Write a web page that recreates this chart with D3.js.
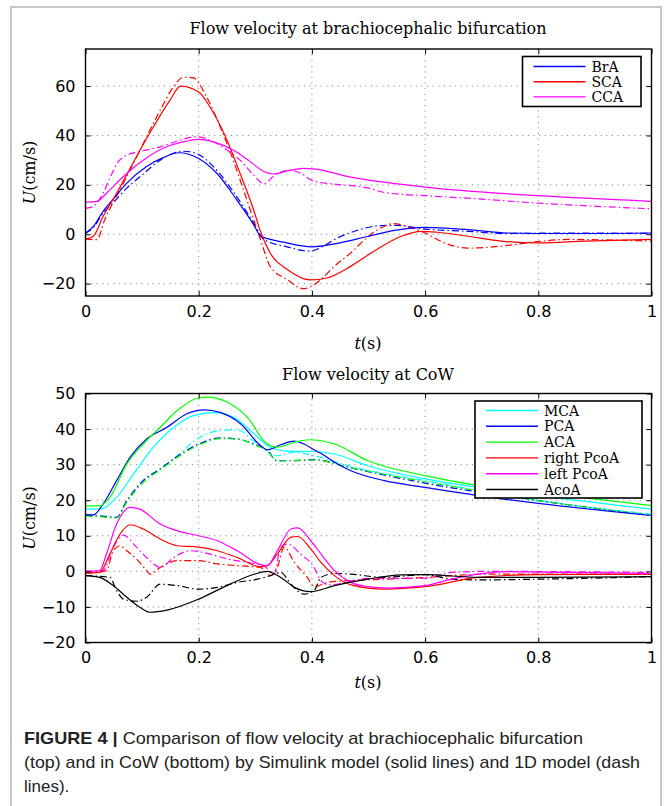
<!DOCTYPE html>
<html>
<head>
<meta charset="utf-8">
<script src="https://cdn.jsdelivr.net/npm/d3@7"></script>
<style>
  body { margin: 0; background: #fff; }
</style>
</head>
<body>
<div id="chart"></div>
<script>
// ticks
const xTicks = [0, 0.2, 0.4, 0.6, 0.8, 1];
const topYTicks = [-20, 0, 20, 40, 60];
const botYTicks = [-20, -10, 0, 10, 20, 30, 40, 50];

// top panel: [t (s), U (cm/s)], Simulink (sim) and 1D model
const braSim = [[0,0.5],[0.015,3.5],[0.031,9.3],[0.05,14.5],[0.073,20.7],[0.108,27.4],[0.135,30.8],[0.165,33],[0.2,30.7],[0.232,24.7],[0.267,14],[0.297,3.9],[0.309,-0.6],[0.325,-2],[0.35,-3.2],[0.38,-4.6],[0.4,-5.1],[0.44,-3.9],[0.5,-0.8],[0.546,1.6],[0.6,2.8],[0.675,1.9],[0.746,0.5],[0.8,0.3],[0.9,0.3],[1,0.5]];
const bra1d = [[0,0.3],[0.015,3],[0.031,8.5],[0.05,13],[0.073,18.7],[0.1,24],[0.132,30],[0.155,32.8],[0.175,33.6],[0.2,32.3],[0.226,27.4],[0.261,17.3],[0.297,4.6],[0.315,-2.1],[0.356,-5.1],[0.397,-6.8],[0.415,-5.5],[0.44,-2.1],[0.475,1.2],[0.522,3.5],[0.55,3.6],[0.6,2.1],[0.675,1.2],[0.74,0.3],[0.85,0.5],[1,0.3]];
const scaSim = [[0,-2],[0.014,-0.8],[0.031,7.2],[0.055,16.6],[0.09,31.4],[0.12,43.5],[0.149,54.2],[0.168,60],[0.2,57.6],[0.22,51.5],[0.25,38.1],[0.273,24.7],[0.297,9.9],[0.309,1.2],[0.326,-7.5],[0.356,-14.2],[0.397,-18.5],[0.428,-17.6],[0.469,-12.9],[0.51,-6.8],[0.558,-0.8],[0.593,1.2],[0.622,0.8],[0.675,-0.8],[0.735,-2.8],[0.8,-3.5],[0.882,-2.8],[1,-2.1]];
const sca1d = [[0,-2],[0.02,-2.2],[0.034,5.9],[0.067,20.7],[0.096,34],[0.132,50.2],[0.155,59.6],[0.173,63.6],[0.19,63.4],[0.214,55.6],[0.238,43.5],[0.261,30],[0.285,14],[0.309,-2],[0.326,-12.9],[0.356,-18.3],[0.385,-22],[0.4,-21],[0.416,-18.3],[0.44,-12.9],[0.469,-7.5],[0.5,-0.8],[0.522,2.6],[0.543,4.3],[0.575,2.6],[0.6,0.5],[0.634,-3.5],[0.675,-5.6],[0.735,-4.8],[0.794,-3.1],[0.852,-2.1],[1,-2.8]];
const ccaSim = [[0,13],[0.02,13.3],[0.037,16.6],[0.067,23.4],[0.102,30],[0.143,35.4],[0.179,37.7],[0.2,38.4],[0.226,37.4],[0.261,34.1],[0.291,29.4],[0.315,25.4],[0.332,24.4],[0.356,25.6],[0.385,26.7],[0.403,26.5],[0.469,23.1],[0.6,19.1],[0.8,15.6],[1,13.3]];
const cca1d = [[0,10.5],[0.014,11.3],[0.031,16.6],[0.043,22.7],[0.058,29.4],[0.073,32],[0.102,33.8],[0.132,35.4],[0.167,38.1],[0.196,39.5],[0.22,38.1],[0.25,34.1],[0.273,30],[0.297,24],[0.315,20.5],[0.335,24],[0.36,26],[0.38,24.7],[0.403,21.5],[0.44,20.3],[0.5,18.7],[0.528,16.9],[0.6,15.6],[0.675,14.6],[0.8,12.6],[1,10.3]];

// bottom panel (CoW)
const mcaSim = [[0,17.5],[0.025,17.5],[0.055,20.8],[0.085,27.4],[0.12,34.9],[0.156,40.5],[0.191,43.8],[0.227,44.6],[0.262,43.3],[0.298,38.6],[0.327,34.9],[0.357,33.8],[0.404,33.7],[0.44,33],[0.499,29.7],[0.6,26],[0.694,23.6],[0.8,21.3],[1,17.5]];
const mca1d = [[0,15.8],[0.03,15.5],[0.055,15.2],[0.073,19.9],[0.102,25.5],[0.132,28.8],[0.162,32.5],[0.2,37.5],[0.238,39.6],[0.268,39.8],[0.298,36.5],[0.321,34],[0.339,32.5],[0.369,33.5],[0.404,32.5],[0.469,29.5],[0.6,25.5],[0.8,19.9],[1,16.1]];
const pcaSim = [[0,15.9],[0.014,15.9],[0.031,18.9],[0.055,25.5],[0.079,32.1],[0.108,37.2],[0.144,40.5],[0.179,44.3],[0.209,45.4],[0.238,44.7],[0.274,41.5],[0.309,35.4],[0.321,34.2],[0.345,35.6],[0.369,36.6],[0.386,35.8],[0.404,34.2],[0.42,32.8],[0.44,30.7],[0.469,28.3],[0.528,25.5],[0.6,23.6],[0.694,21.3],[0.8,19.1],[1,15.7]];
const pca1d = [[0,15.8],[0.03,15.5],[0.055,15.2],[0.073,19.9],[0.102,25.5],[0.132,28.8],[0.162,32.3],[0.2,35.8],[0.238,37.5],[0.268,37.2],[0.298,35.8],[0.321,34],[0.339,31.1],[0.369,31.1],[0.404,31.4],[0.469,29.1],[0.6,24.8],[0.8,19.9],[1,15.7]];
const acaSim = [[0,18.4],[0.025,18.4],[0.043,20.8],[0.073,30.2],[0.102,35.8],[0.132,40.5],[0.162,45.2],[0.2,48.8],[0.215,49],[0.25,47.6],[0.286,43.3],[0.321,35.8],[0.339,34.9],[0.369,36.3],[0.395,37],[0.44,35.8],[0.499,31.1],[0.6,26.9],[0.694,24.1],[0.8,22.2],[1,18.5]];
const aca1d = [[0,15.6],[0.03,15.3],[0.055,15],[0.073,19.5],[0.102,25],[0.132,28.5],[0.162,32],[0.2,35.5],[0.238,37.3],[0.268,37.2],[0.298,35.6],[0.321,33.8],[0.339,31],[0.369,31.2],[0.404,31.3],[0.469,29.1],[0.6,25.2],[0.8,19.9],[1,15.8]];
const rpcoaSim = [[0,-0.5],[0.025,-0.3],[0.043,4.9],[0.061,10.5],[0.079,13.1],[0.102,11.9],[0.132,9.1],[0.162,7.2],[0.2,6.8],[0.233,5.8],[0.268,3.9],[0.309,1.3],[0.321,1.6],[0.339,4.9],[0.363,9.6],[0.375,9.8],[0.398,6.3],[0.416,2.5],[0.44,-1.2],[0.469,-3.8],[0.528,-5],[0.6,-4.3],[0.694,-1.7],[0.8,-0.9],[1,-0.8]];
const rpcoa1d = [[0,-0.5],[0.037,0.2],[0.049,5.8],[0.061,7.2],[0.073,5.8],[0.09,3.5],[0.108,0.2],[0.114,-0.8],[0.132,1.1],[0.162,3],[0.2,3],[0.233,2.1],[0.268,1.6],[0.309,1.1],[0.327,-1.2],[0.339,1.1],[0.351,6.8],[0.369,2.5],[0.392,-1.7],[0.404,-4.3],[0.428,-3.1],[0.469,-2.6],[0.528,-2.2],[0.6,-1.7],[0.647,-1.2],[0.706,-0.8],[1,-0.8]];
const lpcoaSim = [[0,0],[0.025,0.2],[0.037,4.9],[0.055,13.3],[0.079,18],[0.096,17.5],[0.132,13.3],[0.162,11.4],[0.2,10],[0.233,8.6],[0.268,5.8],[0.309,1.9],[0.321,1.6],[0.339,5.8],[0.363,11.9],[0.375,12.2],[0.398,8.6],[0.416,4.9],[0.44,0.2],[0.469,-3.1],[0.499,-4.3],[0.534,-4.7],[0.6,-4],[0.647,-2.2],[0.694,-0.8],[0.742,-0.1],[0.8,-0.2],[1,-0.6]];
const lpcoa1d = [[0,0],[0.031,0.2],[0.049,6.8],[0.061,9.6],[0.067,10.2],[0.09,6.8],[0.114,3],[0.132,1.1],[0.156,3.9],[0.185,5.8],[0.209,5.3],[0.25,3.5],[0.286,2.5],[0.315,1.6],[0.333,-0.8],[0.345,6.8],[0.357,7.7],[0.38,4.9],[0.404,1.1],[0.416,-2.6],[0.43,-3.8],[0.5,-2],[0.6,-2],[0.647,-0.3],[0.706,0],[1,-0.3]];
const acoaSim = [[0,-1.2],[0.025,-1.7],[0.049,-4],[0.073,-7.3],[0.096,-10.1],[0.114,-11.5],[0.144,-10.9],[0.2,-7.8],[0.25,-4],[0.298,-0.8],[0.321,0],[0.345,-1.7],[0.369,-4.5],[0.398,-5.7],[0.44,-4],[0.499,-2.2],[0.558,-1],[0.6,-0.9],[0.694,-1.7],[0.8,-1.7],[1,-1.5]];
const acoa1d = [[0,-1.2],[0.043,-1.7],[0.055,-5.4],[0.067,-7.8],[0.09,-8.4],[0.108,-7.3],[0.132,-3.6],[0.162,-4],[0.2,-5],[0.233,-4.5],[0.268,-3.1],[0.304,-2.2],[0.327,-1.2],[0.345,-0.3],[0.363,-3.6],[0.386,-6.4],[0.404,-5.4],[0.416,-1.7],[0.44,-0.6],[0.469,-0.8],[0.528,-1.7],[0.6,-0.9],[0.647,-2.2],[0.694,-2.4],[0.8,-2.2],[1,-1.5]];

const topNames = ["BrA", "SCA", "CCA"];
const botNames = ["MCA", "PCA", "ACA", "right PcoA", "left PcoA", "AcoA"];

const width = 664, height = 806;
const serif = "'DejaVu Serif', serif";
const sans = "'DejaVu Sans', sans-serif";
const dashDot = "7,3,1.5,3";

const svg = d3.select("#chart")
    .append("svg")
    .attr("width", width)
    .attr("height", height)
    .style("display", "block");

// gray frame round the figure
svg.append("rect")
    .attr("x", 11).attr("y", 7)
    .attr("width", 650).attr("height", 800)
    .attr("fill", "none")
    .attr("stroke", "#b4b4b4")
    .attr("stroke-width", 1.5);

function drawPanel(p) {
    const x = d3.scaleLinear().domain([0, 1]).range([85.5, 651.5]);
    const y = d3.scaleLinear().domain(p.yDomain).range([p.bottom, p.top]);
    const g = svg.append("g");

    // dotted grid
    g.selectAll(".gx").data(xTicks.slice(1, -1)).join("line")
        .attr("x1", d => x(d)).attr("x2", d => x(d))
        .attr("y1", p.top).attr("y2", p.bottom)
        .attr("stroke", "#777").attr("stroke-width", 1)
        .attr("stroke-dasharray", "1,4.6");
    g.selectAll(".gy").data(p.yTicks).join("line")
        .attr("x1", x(0)).attr("x2", x(1))
        .attr("y1", d => y(d)).attr("y2", d => y(d))
        .attr("stroke", "#777").attr("stroke-width", 1)
        .attr("stroke-dasharray", "1,4.6");

    const clipId = "clip" + p.id;
    svg.append("clipPath").attr("id", clipId)
        .append("rect")
        .attr("x", x(0)).attr("y", p.top)
        .attr("width", x(1) - x(0)).attr("height", p.bottom - p.top);

    const line = d3.line()
        .x(d => x(d[0]))
        .y(d => y(d[1]))
        .curve(d3.curveMonotoneX);

    const lines = g.append("g").attr("clip-path", `url(#${clipId})`);
    p.series.forEach(s => {
        lines.append("path").datum(s.oneD)
            .attr("d", line).attr("fill", "none")
            .attr("stroke", s.color).attr("stroke-width", 1.2)
            .attr("stroke-dasharray", dashDot);
    });
    p.series.forEach(s => {
        lines.append("path").datum(s.sim)
            .attr("d", line).attr("fill", "none")
            .attr("stroke", s.color).attr("stroke-width", 1.2);
    });

    // axes with inward ticks on all four sides
    const fmt = d => d3.format("")(d).replace("-", "\u2212");
    const axB = g.append("g").attr("transform", `translate(0,${p.bottom})`)
        .call(d3.axisBottom(x).tickValues(xTicks).tickSize(-5).tickPadding(12).tickFormat(fmt));
    const axT = g.append("g").attr("transform", `translate(0,${p.top})`)
        .call(d3.axisTop(x).tickValues(xTicks).tickSize(-5).tickFormat(""));
    const axL = g.append("g").attr("transform", `translate(${x(0)},0)`)
        .call(d3.axisLeft(y).tickValues(p.yTicks).tickSize(-5).tickPadding(10).tickFormat(fmt));
    const axR = g.append("g").attr("transform", `translate(${x(1)},0)`)
        .call(d3.axisRight(y).tickValues(p.yTicks).tickSize(-5).tickFormat(""));
    [axB, axT, axL, axR].forEach(a => {
        a.select(".domain").remove();
        a.selectAll("line").attr("stroke", "#000");
        a.selectAll("text").attr("fill", "#000")
            .style("font-family", sans).style("font-size", "16px");
    });
    axB.selectAll("text").attr("dy", "0.71em").attr("y", p.xLabelGap);

    g.append("rect")
        .attr("x", x(0)).attr("y", p.top)
        .attr("width", x(1) - x(0)).attr("height", p.bottom - p.top)
        .attr("fill", "none").attr("stroke", "#000").attr("stroke-width", 1.4);

    // title and axis labels
    g.append("text")
        .attr("x", 368).attr("y", p.titleY)
        .attr("text-anchor", "middle")
        .style("font-family", serif).style("font-size", "16px")
        .text(p.title);

    const xl = g.append("text")
        .attr("x", 368).attr("y", p.xLabelY)
        .attr("text-anchor", "middle")
        .style("font-family", serif).style("font-size", "16px");
    xl.append("tspan").style("font-style", "italic").text("t");
    xl.append("tspan").text("(s)");

    const yl = g.append("text")
        .attr("transform", `translate(35,${(p.top + p.bottom) / 2}) rotate(-90)`)
        .attr("text-anchor", "middle")
        .style("font-family", serif).style("font-size", "16px");
    yl.append("tspan").style("font-style", "italic").text("U");
    yl.append("tspan").text("(cm/s)");

    // legend
    const L = p.legend;
    const leg = g.append("g");
    leg.append("rect")
        .attr("x", L.x).attr("y", L.y)
        .attr("width", L.w).attr("height", L.h)
        .attr("fill", "#fff").attr("stroke", "#000").attr("stroke-width", 1.6);
    p.series.forEach((s, i) => {
        const ry = L.y + L.first + i * L.step;
        leg.append("line")
            .attr("x1", L.x + 11).attr("x2", L.x + 63)
            .attr("y1", ry).attr("y2", ry)
            .attr("stroke", s.color).attr("stroke-width", 1.4);
        leg.append("text")
            .attr("x", L.x + 69).attr("y", ry + 5)
            .style("font-family", serif).style("font-size", "14px")
            .text(s.name);
    });
}

drawPanel({
    id: "top",
    title: "Flow velocity at brachiocephalic bifurcation",
    titleY: 34,
    top: 49, bottom: 296,
    yDomain: [-25, 75],
    yTicks: topYTicks,
    xLabelGap: 10,
    xLabelY: 349,
    legend: { x: 522.5, y: 56.5, w: 118.5, h: 50, first: 10, step: 15.2 },
    series: [
        { name: topNames[0], sim: braSim, oneD: bra1d, color: "#0000ff" },
        { name: topNames[1], sim: scaSim, oneD: sca1d, color: "#ff0000" },
        { name: topNames[2], sim: ccaSim, oneD: cca1d, color: "#ff00ff" }
    ]
});

drawPanel({
    id: "bot",
    title: "Flow velocity at CoW",
    titleY: 380,
    top: 393.5, bottom: 642.5,
    yDomain: [-20, 50],
    yTicks: botYTicks,
    xLabelGap: 9,
    xLabelY: 688,
    legend: { x: 475, y: 401, w: 167, h: 97, first: 9.5, step: 15.8 },
    series: [
        { name: botNames[0], sim: mcaSim, oneD: mca1d, color: "#00ffff" },
        { name: botNames[1], sim: pcaSim, oneD: pca1d, color: "#0000ff" },
        { name: botNames[2], sim: acaSim, oneD: aca1d, color: "#00ff00" },
        { name: botNames[3], sim: rpcoaSim, oneD: rpcoa1d, color: "#ff0000" },
        { name: botNames[4], sim: lpcoaSim, oneD: lpcoa1d, color: "#ff00ff" },
        { name: botNames[5], sim: acoaSim, oneD: acoa1d, color: "#000000" }
    ]
});

// caption
const capFont = "'Liberation Sans Narrow', 'Liberation Sans', sans-serif";
const cap1 = svg.append("text").attr("x", 24).attr("y", 744)
    .attr("textLength", 559).attr("lengthAdjust", "spacingAndGlyphs")
    .style("font-family", capFont).style("font-size", "17px").attr("fill", "#222");
cap1.append("tspan").style("font-weight", "bold").text("FIGURE 4 |");
cap1.append("tspan").text(" Comparison of flow velocity at brachiocephalic bifurcation");
svg.append("text").attr("x", 24).attr("y", 768)
    .attr("textLength", 616).attr("lengthAdjust", "spacingAndGlyphs")
    .style("font-family", capFont).style("font-size", "17px").attr("fill", "#222")
    .text("(top) and in CoW (bottom) by Simulink model (solid lines) and 1D model (dash");
svg.append("text").attr("x", 24).attr("y", 792)
    .style("font-family", capFont).style("font-size", "17px").attr("fill", "#222")
    .text("lines).");
</script>
</body>
</html>
